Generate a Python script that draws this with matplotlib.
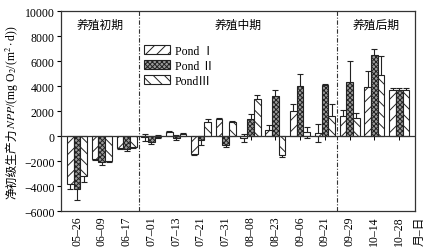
import matplotlib
matplotlib.use("Agg")
import matplotlib.pyplot as plt
import numpy as np
from matplotlib.patches import Patch

plt.rcParams['font.family'] = ['Liberation Serif', 'Noto Sans CJK SC', 'DejaVu Sans']
plt.rcParams['hatch.linewidth'] = 0.7

dates = ["05\u201326", "06\u201309", "06\u201317", "07\u201301", "07\u201313", "07\u201321", "07\u201331",
         "08\u201308", "08\u201323", "09\u201306", "09\u201321", "09\u201329", "10\u201314", "10\u201328"]
pond1 = [-3800, -1850, -950, -100, 350, -1400, 1400, -150, 450, 2000, 250, 1600, 3900, 3700]
pond1_err = [450, 100, 100, 300, 80, 100, 80, 350, 400, 550, 700, 500, 1300, 150]
pond2 = [-4200, -2050, -1050, -450, -150, -350, -700, 1350, 3200, 4000, 4050, 4300, 6450, 3700]
pond2_err = [900, 250, 150, 150, 200, 350, 150, 450, 450, 950, 150, 1700, 550, 150]
pond3 = [-3200, -2000, -850, -50, 200, 1100, 1100, 3000, -1550, 300, 1600, 1450, 4850, 3700]
pond3_err = [450, 100, 100, 100, 80, 250, 80, 300, 150, 450, 950, 400, 1550, 150]
series_names = ["Pond \u2160", "Pond \u2161", "Pond\u2162"]
period_names = ["养殖初期", "养殖中期", "养殖后期"]
period_bounds = [2.5, 10.5]
yticks = [-6000, -4000, -2000, 0, 2000, 4000, 6000, 8000, 10000]

fs = 8.5
fig = plt.figure(figsize=(4.29, 2.51), dpi=100)
ax = fig.add_axes([0.142, 0.155, 0.825, 0.797])

x = np.arange(len(dates))
w = 0.27
hatches = ['///', 'xxxxxxx', '\\\\\\']
faces = ['white', '#9a9a9a', 'white']
data = [(pond1, pond1_err), (pond2, pond2_err), (pond3, pond3_err)]
for i, (vals, errs) in enumerate(data):
    xi = x + (i - 1) * w
    ax.errorbar(xi, vals, yerr=errs, fmt='none', ecolor='#222222', elinewidth=0.8,
                capsize=2.2, capthick=0.8, zorder=1)
    ax.bar(xi, vals, width=w, facecolor=faces[i], edgecolor='#222222', hatch=hatches[i],
           linewidth=0.8, zorder=2)

ax.axhline(0, color='#333333', lw=0.9, zorder=3)
for b in period_bounds:
    ax.axvline(b, color='#333333', lw=0.8, ls=(0, (4, 1.5, 1, 1.5)), zorder=0)

ax.set_xlim(-0.65, 13.63)
ax.set_ylim(-6000, 10000)
ax.set_yticks(yticks)
ax.set_yticklabels([("\u2212%d" % -v) if v < 0 else str(v) for v in yticks], fontsize=fs)
ax.set_xticks(x)
ax.set_xticklabels(dates, rotation=90, fontsize=fs)
ax.tick_params(axis='x', length=0, pad=3)
ax.tick_params(axis='y', direction='out', length=3, width=0.8, pad=1.5)
for s in ax.spines.values():
    s.set_linewidth(0.9)
    s.set_color('#333333')

# ticks on zero line
sec = ax.secondary_xaxis(0.375)
sec.set_xticks(x)
sec.tick_params(direction='out', length=3, width=0.7, labelbottom=False, labeltop=False,
                bottom=True, top=False)
sec.spines['bottom'].set_visible(False)
sec.spines['top'].set_visible(False)

# period labels
lims = [-0.65] + period_bounds + [13.63]
for i, name in enumerate(period_names):
    cx = (lims[i] + lims[i + 1]) / 2
    ax.text(cx, 0.93, name, transform=ax.get_xaxis_transform(), ha='center', va='center',
            fontsize=fs)

handles = [Patch(facecolor=faces[i], edgecolor='#222222', hatch=hatches[i], linewidth=0.8)
           for i in range(3)]
ax.legend(handles, series_names, loc='upper left', bbox_to_anchor=(0.235, 0.83), frameon=False,
          fontsize=fs, handlelength=2.2, handleheight=0.8, labelspacing=0.25,
          handletextpad=0.4, borderaxespad=0, borderpad=0)

fig.text(0.978, 0.02, "月\u2013日", rotation=90, ha='center', va='bottom', fontsize=fs)

# y label in two pieces
tA = fig.text(0.028, 0.5, "净初级生产力", rotation=90, ha='center', va='bottom', fontsize=fs)
tB = fig.text(0.028, 0.5, r"$\it{NPP}$/(mg O$_2$/(m$^2\cdot$d))", rotation=90, ha='center',
              va='bottom', fontsize=fs, math_fontfamily='stix')
fig.canvas.draw()
r = fig.canvas.get_renderer()
hA = tA.get_window_extent(r).height
hB = tB.get_window_extent(r).height
H = fig.bbox.height
center = (0.155 + 0.952) / 2 * H
bottom = center - (hA + hB) / 2
tA.set_y(bottom / H)
tB.set_y((bottom + hA) / H)

fig.savefig("out.png", dpi=100)
